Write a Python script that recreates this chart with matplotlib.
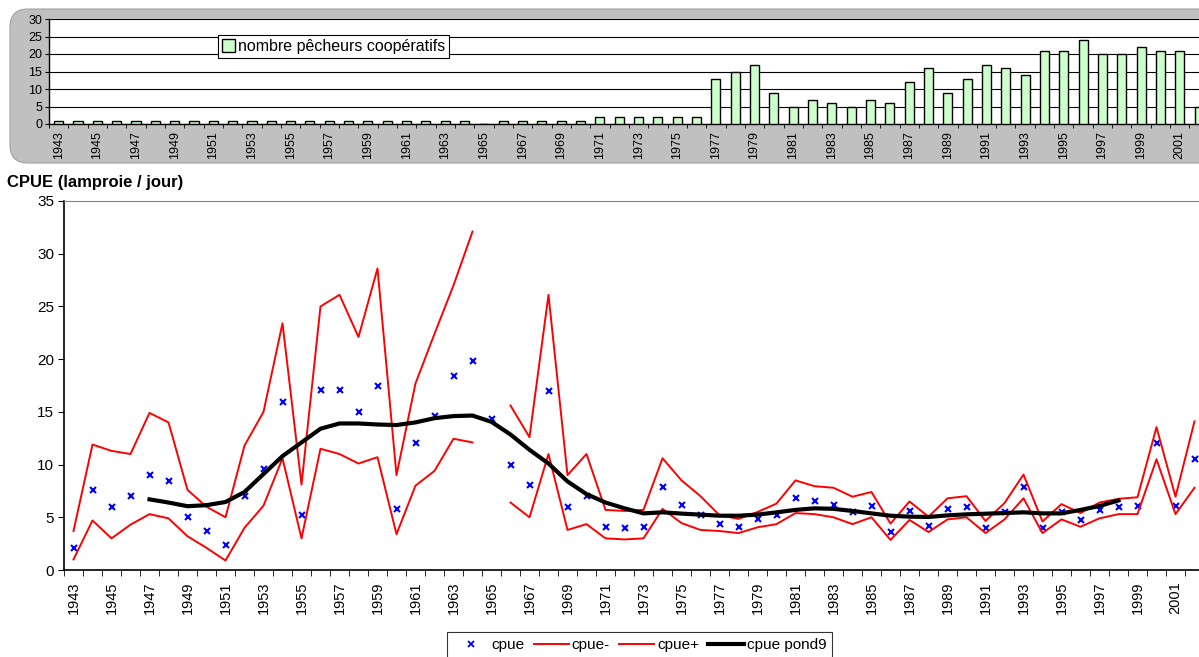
import numpy as np
import matplotlib
matplotlib.use("Agg")
import matplotlib.pyplot as plt
from matplotlib.patches import FancyBboxPatch
from matplotlib.lines import Line2D

plt.rcParams['font.family'] = ['Liberation Sans', 'DejaVu Sans']

years = list(range(1943, 2003))

# nombre de pecheurs cooperatifs (top bars)
pecheurs = [1, 1, 1, 1, 1, 1, 1, 1, 1, 1, 1, 1, 1, 1, 1, 1, 1, 1, 1, 1, 1, 1,
            0, 1, 1, 1, 1, 1, 2, 2, 2, 2, 2, 2,
            13, 15, 17, 9, 5, 7, 6, 5, 7, 6, 12, 16, 9, 13, 17, 16, 14,
            21, 21, 24, 20, 20, 22, 21, 21, 5]

cpue = [2.1, 7.6, 6.0, 7.0, 9.0, 8.4, 5.0, 3.7, 2.4, 7.0,
        9.6, 15.9, 5.2, 17.1, 17.1, 15.0, 17.5, 5.8, 12.0, 14.6,
        18.4, 19.8, 14.3, 10.0, 8.1, 17.0, 6.0, 7.0, 4.1, 4.0,
        4.1, 7.9, 6.2, 5.2, 4.4, 4.1, 4.8, 5.2, 6.8, 6.5,
        6.2, 5.5, 6.1, 3.6, 5.6, 4.2, 5.8, 6.0, 4.0, 5.5,
        7.9, 4.0, 5.5, 4.7, 5.7, 6.0, 6.1, 12.0, 6.1, 10.5]

cpue_moins = [1.0, 4.7, 3.0, 4.3, 5.3, 4.9, 3.2, 2.1, 0.9, 4.0,
              6.1, 10.6, 3.0, 11.5, 11.0, 10.1, 10.7, 3.4, 8.0, 9.4,
              12.45, 12.1, None, 6.4, 5.0, 11.0, 3.8, 4.35, 3.0, 2.9,
              3.0, 5.8, 4.45, 3.8, 3.7, 3.5, 4.05, 4.35, 5.4, 5.3,
              5.0, 4.35, 5.0, 2.85, 4.75, 3.6, 4.8, 5.0, 3.5, 4.8,
              6.8, 3.5, 4.8, 4.1, 4.9, 5.3, 5.3, 10.5, 5.3, 7.8]

cpue_plus = [3.7, 11.9, 11.3, 11.0, 14.9, 14.0, 7.6, 6.0, 5.0, 11.8,
             15.0, 23.4, 8.1, 25.0, 26.1, 22.1, 28.6, 9.0, 17.7, 22.4,
             27.0, 32.1, None, 15.6, 12.6, 26.1, 9.0, 11.0, 5.7, 5.6,
             5.7, 10.6, 8.5, 7.0, 5.2, 4.85, 5.5, 6.3, 8.5, 7.95,
             7.8, 6.95, 7.4, 4.4, 6.5, 5.05, 6.8, 7.0, 4.65, 6.35,
             9.05, 4.6, 6.25, 5.4, 6.4, 6.75, 6.9, 13.55, 6.95, 14.1]

cpue_pond9 = [None, None, None, None, 6.7, 6.4, 6.05, 6.15, 6.45, 7.4,
              9.1, 10.8, 12.1, 13.4, 13.9, 13.9, 13.8, 13.75, 14.0, 14.4,
              14.6, 14.65, 14.05, 12.85, 11.4, 10.1, 8.4, 7.2, 6.4, 5.85,
              5.37, 5.47, 5.35, 5.25, 5.15, 5.15, 5.25, 5.47, 5.7, 5.85,
              5.8, 5.6, 5.37, 5.15, 5.06, 5.03, 5.18, 5.28, 5.34, 5.4,
              5.47, 5.37, 5.37, 5.7, 6.07, 6.6, None, None, None, None]


def arr(v):
    return np.array([np.nan if a is None else a for a in v], dtype=float)


W, H = 1199, 657
fig = plt.figure(figsize=(W / 100, H / 100), dpi=100)

# grey rounded frame of the top chart
bg = FancyBboxPatch((10 / W, 1 - 163 / H), 1.2, 154 / H,
                    boxstyle="round,pad=0,rounding_size=0.015",
                    transform=fig.transFigure, facecolor="#c0c0c0",
                    edgecolor="#a0a0a0", linewidth=0.8, mutation_aspect=W / H,
                    zorder=-10)
fig.patches.append(bg)

x = np.arange(len(years))

# ---- top chart: number of fishermen
ax1 = fig.add_axes([49 / W, 1 - 124 / H, 60 * 19.33 / W, 105 / H])
ax1.bar(x, pecheurs, width=0.47, color="#ccffcc", edgecolor="black",
        linewidth=1.0, label="nombre pêcheurs coopératifs", zorder=3)
ax1.set_xlim(-0.5, len(years) - 0.5)
ax1.set_ylim(0, 30)
ax1.set_yticks(range(0, 31, 5))
ax1.yaxis.grid(True, color="black", linewidth=0.8)
ax1.set_axisbelow(True)
ax1.set_xticks(x[::2])
ax1.set_xticklabels([str(y) for y in years[::2]], rotation=90, fontsize=9)
ax1.set_xticks(np.arange(len(years) + 1) - 0.5, minor=True)
ax1.tick_params(axis="x", which="major", length=0, pad=5)
ax1.tick_params(axis="x", which="minor", length=3, direction="out")
ax1.tick_params(axis="y", labelsize=9, length=3, pad=2)
for s in ["right", "top"]:
    ax1.spines[s].set_visible(False)
ax1.spines["left"].set_linewidth(1.0)
ax1.spines["bottom"].set_linewidth(1.0)
ax1.legend(loc="upper left", bbox_to_anchor=(218 / W, 1 - 35 / H),
           bbox_transform=fig.transFigure, fontsize=11.5, frameon=True,
           fancybox=False, edgecolor="black", handlelength=0.8,
           handleheight=0.8, handletextpad=0.2, borderpad=0.25,
           borderaxespad=0, framealpha=1).get_frame().set_linewidth(0.8)

# ---- main chart: CPUE
ax2 = fig.add_axes([64 / W, 1 - 570 / H, 60 * 19 / W, 369 / H])
ax2.plot(x, arr(cpue), linestyle="none", marker="x", color="blue",
         markersize=5, markeredgewidth=1.5, label="cpue")
ax2.plot(x, arr(cpue_moins), color="red", linewidth=1.4, label="cpue-")
ax2.plot(x, arr(cpue_plus), color="red", linewidth=1.4, label="cpue+")
ax2.plot(x, arr(cpue_pond9), color="black", linewidth=3, label="cpue pond9")
ax2.set_xlim(-0.5, len(years) - 0.5)
ax2.set_ylim(0, 35)
ax2.set_yticks(range(0, 36, 5))
ax2.tick_params(axis="y", labelsize=11, length=4, pad=3)
ax2.set_xticks(x[::2])
ax2.set_xticklabels([str(y) for y in years[::2]], rotation=90, fontsize=10.5)
ax2.set_xticks(np.arange(len(years) + 1) - 0.5, minor=True)
ax2.tick_params(axis="x", which="major", length=0, pad=8)
ax2.tick_params(axis="x", which="minor", length=4, direction="out")
ax2.spines["right"].set_visible(False)
ax2.spines["top"].set_color("#808080")
ax2.spines["left"].set_linewidth(1.2)
ax2.spines["bottom"].set_linewidth(1.2)

fig.text(7 / W, 1 - 183 / H, "CPUE (lamproie / jour)", fontsize=12,
         fontweight="bold", va="center", ha="left")

handles = [Line2D([], [], linestyle="none", marker="x", color="blue",
                  markersize=4, markeredgewidth=1.3),
           Line2D([], [], color="red", linewidth=1.4),
           Line2D([], [], color="red", linewidth=1.4),
           Line2D([], [], color="black", linewidth=3)]
leg = fig.legend(handles, ["cpue", "cpue-", "cpue+", "cpue pond9"],
                 loc="upper left", bbox_to_anchor=(447 / W, 1 - 632 / H),
                 ncol=4, fontsize=11, frameon=True, fancybox=False,
                 edgecolor="black", handlelength=2.3, handletextpad=0.2,
                 columnspacing=0.6, borderpad=0.4, borderaxespad=0)
leg.get_frame().set_linewidth(0.8)

fig.savefig("out.png", dpi=100)
